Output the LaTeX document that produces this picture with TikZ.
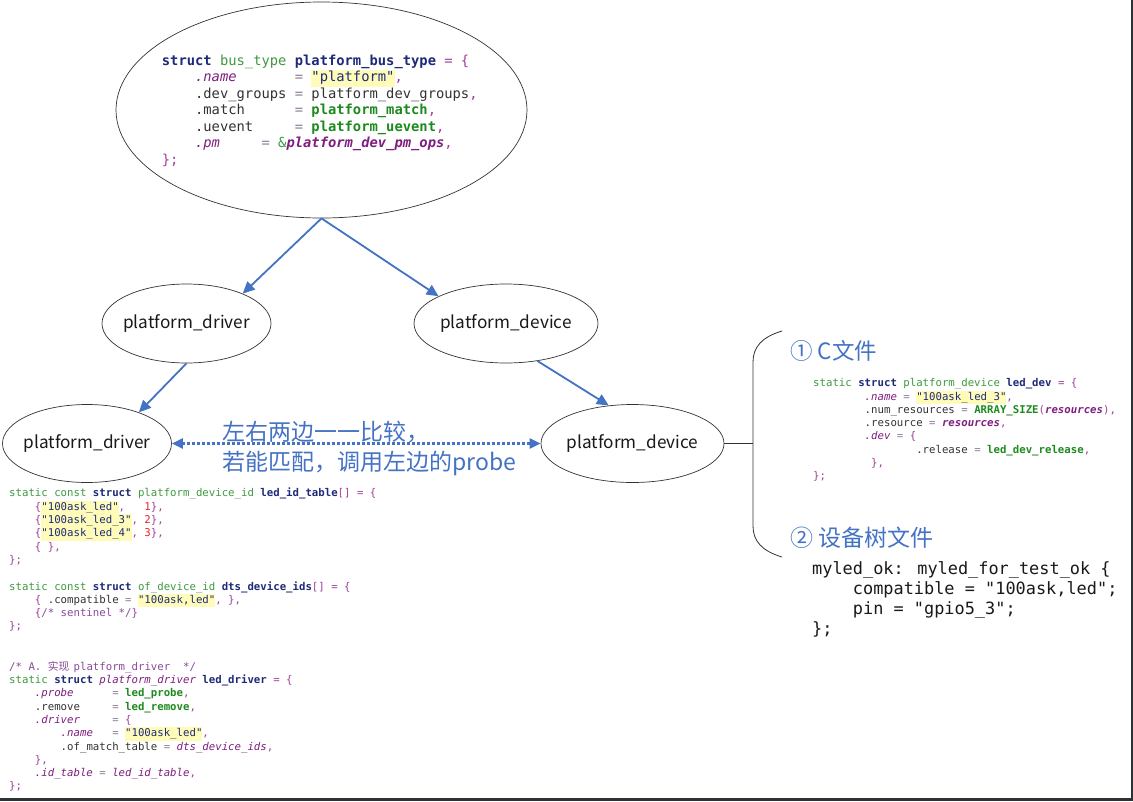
\documentclass[tikz,border=0pt]{standalone}
\usepackage{fontspec}
\setmainfont{Noto Sans CJK SC}
\newfontfamily\cjk{Noto Sans CJK SC}
\newfontfamily\codefont{DejaVu Sans Mono}
\usetikzlibrary{arrows.meta,shapes.geometric}
\definecolor{cnavy}{HTML}{1E2A78}
\definecolor{cgreen}{HTML}{3E9A3E}
\definecolor{cpurp}{HTML}{A0409A}
\definecolor{ceq}{HTML}{8E7A96}
\definecolor{cfield}{HTML}{7E1E7E}
\definecolor{cplain}{HTML}{333333}
\definecolor{cfn}{HTML}{1E8A1E}
\definecolor{chl}{HTML}{FFFBB8}
\definecolor{cred}{HTML}{E8232A}
\definecolor{ccom}{HTML}{8A4A9A}
\definecolor{cblue}{HTML}{4472C4}
\definecolor{cedge}{HTML}{2E3236}
\setlength{\fboxsep}{0pt}
\newcommand\Kw[1]{\textcolor{cnavy}{\bfseries #1}}
\newcommand\Ty[1]{\textcolor{cgreen}{#1}}
\newcommand\Op[1]{\textcolor{cpurp}{#1}}
\newcommand\Eq{\textcolor{ceq}{=}}
\newcommand\Fd[1]{\textcolor{cfield}{\itshape #1}}
\newcommand\Bi[1]{\textcolor{cfield}{\bfseries\itshape #1}}
\newcommand\Pl[1]{\textcolor{cplain}{#1}}
\newcommand\Fn[1]{\textcolor{cfn}{\bfseries #1}}
\newcommand\Str[1]{\colorbox{chl}{\textcolor{cnavy}{\strut #1}}}
\newcommand\Num[1]{\textcolor{cred}{#1}}
\newcommand\Cm[1]{\textcolor{ccom}{#1}}
\tikzset{
  ell/.style={ellipse, draw=black!80, line width=0.7pt, inner sep=0pt},
  elbl/.style={font=\cjk\fontsize{17.2}{20}\selectfont, text=black!90},
  arr/.style={draw=cblue, line width=1.8pt, -{Triangle[length=12pt,width=11pt]}},
  darr/.style={draw=cblue, line width=2.2pt, dash pattern=on 2.4pt off 2.6pt,
    {Triangle[length=11pt,width=10pt]}-{Triangle[length=11pt,width=10pt]}},
  bluelbl/.style={font=\cjk\fontsize{23}{30}\selectfont, text=cblue, inner sep=0pt, anchor=base west},
  codeS/.style={font=\codefont\fontsize{10.7}{13.3}\selectfont, align=left, anchor=north west, inner sep=0pt},
  codeT/.style={font=\codefont\fontsize{13.8}{16.5}\selectfont, align=left, anchor=north west, inner sep=0pt},
  codeD/.style={font=\codefont\fontsize{16.9}{20}\selectfont, align=left, anchor=north west, inner sep=0pt, text=black!90},
  brace/.style={draw=black!80, line width=0.8pt},
}
\begin{document}
\begin{tikzpicture}[x=1pt,y=-1pt]
\useasboundingbox (0,0) rectangle (1133,801);
\fill[white] (0,0) rectangle (1133,801);
\fill[cedge] (1130.5,0) rectangle (1133,801);
\fill[cedge] (0,797.5) rectangle (1133,801);

% top ellipse with bus type
\node[ell, minimum width=411pt, minimum height=216pt] (bus) at (321.5,110) {};
\node[codeT] (busc) at (161.7,54.5) {%
\Kw{struct} \Ty{bus\_type} \Kw{platform\_bus\_type} \Op{= \{}\\
~~~~\Fd{.name}~~~~~~~\Eq{} \Str{"platform"}\Op{,}\\
~~~~\Pl{.dev\_groups} \Eq{} \Pl{platform\_dev\_groups}\Op{,}\\
~~~~\Pl{.match}~~~~~~\Eq{} \Fn{platform\_match}\Op{,}\\
~~~~\Pl{.uevent}~~~~~\Eq{} \Fn{platform\_uevent}\Op{,}\\
~~~~\Fd{.pm}~~~~~\Eq{} \Ty{\&}\Bi{platform\_dev\_pm\_ops}\Op{,}\\
\Op{\};}};

% ellipses
\node[ell, minimum width=169pt, minimum height=79pt, label={[elbl]center:platform\_driver}] (drv1) at (186.5,323.5) {};
\node[ell, minimum width=184pt, minimum height=79pt, label={[elbl]center:platform\_device}] (dev1) at (506,323.5) {};
\node[ell, minimum width=169pt, minimum height=78pt, label={[elbl]center:platform\_driver}] (drv2) at (87,443.5) {};
\node[ell, minimum width=183pt, minimum height=78pt, label={[elbl]center:platform\_device}] (dev2) at (632.5,443.5) {};

% arrows
\draw[arr] (bus.south) -- (drv1.28);
\draw[arr] (bus.south) -- (dev1.158);
\draw[arr] (drv1.south) -- (drv2.31);
\draw[arr] (dev1.-50) -- (dev2.122);
\draw[darr] (drv2.east) -- (dev2.west);

\node[bluelbl] (m1) at (222,440.7) {左右两边一一比较，};
\node[bluelbl] (m2) at (222,470.7) {若能匹配，调用左边的probe};

% brace
\coordinate (bj) at (753,443.5);
\coordinate (bt) at (782,331);
\coordinate (bb) at (782,557);
\draw[brace] (dev2.east) -- (bj);
\draw[brace] (bt) .. controls (762,337) and (753,347) .. (753,362) -- (753,526) .. controls (753,541) and (762,551) .. (bb);

\node[bluelbl, font=\cjk\fontsize{22.5}{26}\selectfont] (t1) at (790,359.5) {① C文件};
\node[bluelbl, font=\cjk\fontsize{23}{26}\selectfont] (t2) at (790,546.5) {② 设备树文件};

% C file code
\node[codeS] (cf) at (813,378.4) {%
\Ty{static} \Kw{struct} \Ty{platform\_device} \Kw{led\_dev} \Op{= \{}\\
~~~~~~~~\Fd{.name} \Eq{} \Str{"100ask\_led\_3"}\Op{,}\\
~~~~~~~~\Pl{.num\_resources} \Eq{} \Fn{ARRAY\_SIZE}\Op{(}\Bi{resources}\Op{),}\\
~~~~~~~~\Pl{.resource} \Eq{} \Bi{resources}\Op{,}\\
~~~~~~~~\Fd{.dev} \Eq{} \Op{\{}\\
~~~~~~~~~~~~~~~~\Pl{.release} \Eq{} \Fn{led\_dev\_release}\Op{,}\\
~~~~~~~~~\Op{\},}\\
\Op{\};}};

% device tree code
\node[codeD] (dt) at (812,561.5) {%
myled\_ok: myled\_for\_test\_ok \{\\
~~~~compatible = "100ask,led";\\
~~~~pin = "gpio5\_3";\\
\};};

% left code 1
\node[codeS] (lc1) at (9,488) {%
\Ty{static const} \Kw{struct} \Ty{platform\_device\_id} \Kw{led\_id\_table}\Op{[] = \{}\\
~~~~\Op{\{}\Str{"100ask\_led"}\Op{,}~~~\Num{1}\Op{\},}\\
~~~~\Op{\{}\Str{"100ask\_led\_3"}\Op{,} \Num{2}\Op{\},}\\
~~~~\Op{\{}\Str{"100ask\_led\_4"}\Op{,} \Num{3}\Op{\},}\\
~~~~\Op{\{ \},}\\
\Op{\};}\\
\mbox{}\\
\Ty{static const} \Kw{struct} \Ty{of\_device\_id} \Kw{dts\_device\_ids}\Op{[] = \{}\\
~~~~\Op{\{} \Pl{.compatible} \Eq{} \Str{"100ask,led"}\Op{, \},}\\
~~~~\Op{\{}\Cm{/* sentinel */}\Op{\}}\\
\Op{\};}};

% left code 2
\node[codeS] (lc2) at (9,661) {%
\Cm{/* A. \makebox[25.8pt][l]{\cjk 实现}platform\_driver~~*/}\\
\Ty{static} \Kw{struct} \Fd{platform\_driver} \Kw{led\_driver} \Op{= \{}\\
~~~~\Fd{.probe}~~~~~~\Eq{} \Fn{led\_probe}\Op{,}\\
~~~~\Pl{.remove}~~~~~\Eq{} \Fn{led\_remove}\Op{,}\\
~~~~\Fd{.driver}~~~~~\Eq{} \Op{\{}\\
~~~~~~~~\Fd{.name}~~~\Eq{} \Str{"100ask\_led"}\Op{,}\\
~~~~~~~~\Pl{.of\_match\_table} \Eq{} \Fd{dts\_device\_ids}\Op{,}\\
~~~~\Op{\},}\\
~~~~\Fd{.id\_table} \Eq{} \Fd{led\_id\_table}\Op{,}\\
\Op{\};}};
\end{tikzpicture}
\end{document}
